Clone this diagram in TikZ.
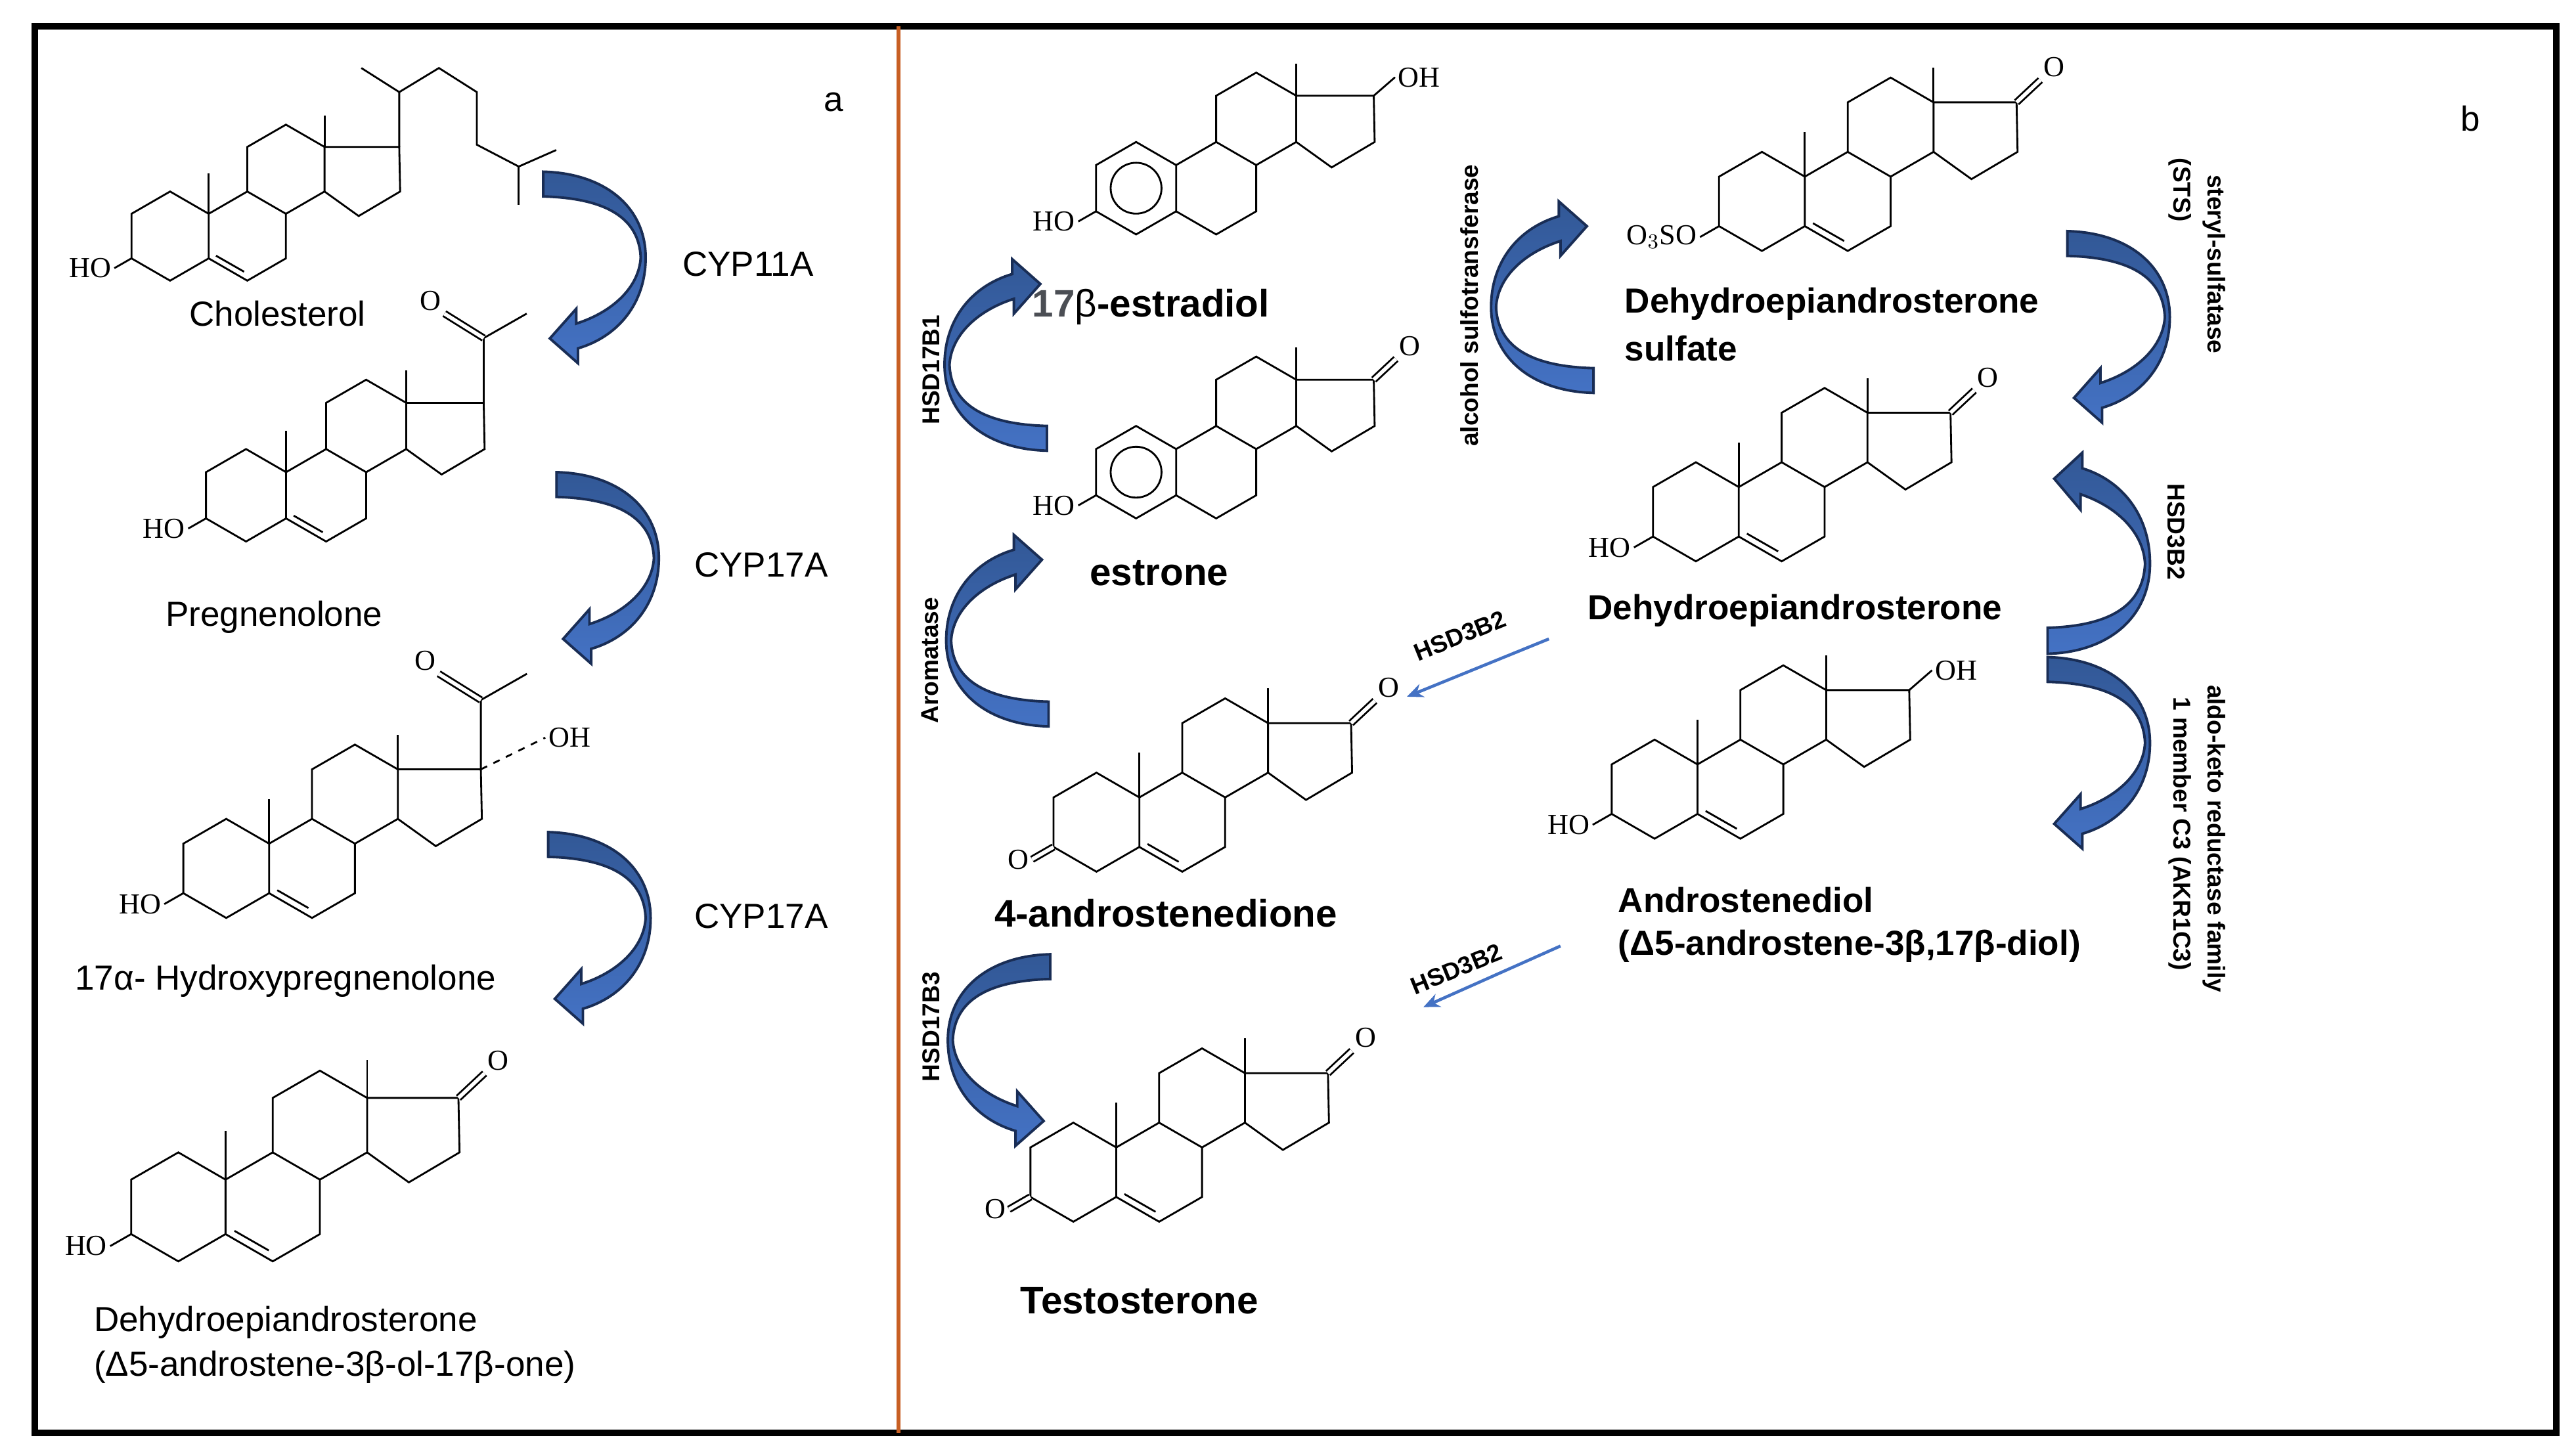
\documentclass[tikz,border=0pt]{standalone}
\usepackage{fontspec}
\usetikzlibrary{arrows.meta}
\setmainfont{Liberation Sans}
\newfontfamily\chemfont{Liberation Serif}
\begin{document}
\definecolor{arrfill}{RGB}{68,114,196}
\definecolor{arrdark}{RGB}{50,88,150}
\definecolor{arrline}{RGB}{25,45,85}
\definecolor{divider}{RGB}{200,95,35}
\definecolor{numgray}{RGB}{75,78,84}
% rings A-D of the steroid frame, bond length 1, y up, ring A centred at origin
\newcommand\skel{%
  \draw (-0.866,0.5)--(0,1)--(0.866,0.5)--(0.866,-0.5)--(0,-1)--(-0.866,-0.5)--cycle;
  \draw (0.866,0.5)--(1.732,1)--(2.598,0.5)--(2.598,-0.5)--(1.732,-1)--(0.866,-0.5);
  \draw (1.732,1)--(1.732,2)--(2.598,2.5)--(3.464,2)--(3.464,1)--(2.598,0.5);
  \draw (3.464,2)--(5.14,2)--(5.16,1.0)--(4.23,0.45)--(3.464,1);
  \draw (3.464,2)--(3.464,2.7);}
\newcommand\meten{\draw (0.866,0.5)--(0.866,1.4);}
\newcommand\dbfive{\draw (1.03,-0.44)--(1.66,-0.80);}
\newcommand\hothree[1]{\draw (-0.866,-0.5)--(-1.25,-0.72) node[chem,anchor=east]{#1};}
\newcommand\ketothree{\draw[dbl] (-0.866,-0.5)--(-1.3,-0.75) node[chem,anchor=east]{O};}
\newcommand\ketoseventeen{\draw[dbl] (5.14,2)--(5.62,2.45) node[chem,anchor=south west]{O};}
\newcommand\ohseventeen{\draw (5.14,2)--(5.6,2.4) node[chem,anchor=west]{OH};}
\newcommand\acetyl{%
  \draw (5.14,2)--(5.14,3.4)--(6.07,3.93);
  \draw[dbl] (5.14,3.4)--(4.29,3.93) node[chem,anchor=south east]{O};}
% curved block arrow: tail at origin, bulging to +x, tip at lower left (y down)
\newcommand\bigarrow[2]{%
  \begin{scope}[shift={#1},#2]
    \filldraw[barrow] (0,0) .. controls (38,1) and (62,22) .. (62,52)
      .. controls (62,80) and (45,100) .. (21,107)
      -- (21,116) -- (4,101) -- (20,83) -- (20,92)
      .. controls (42,85) and (58,70) .. (59,52)
      .. controls (58,28) and (38,16) .. (0,15) -- cycle;
  \end{scope}}
\begin{tikzpicture}[x=0.025cm,y=-0.025cm,
  chem/.style={font=\chemfont\fontsize{12.5}{12.5}\selectfont,inner sep=1pt},
  dbl/.style={double,double distance=1.6pt},
  barrow/.style={line width=1.1pt,draw=arrline,top color=arrdark,bottom color=arrfill},
  lbl/.style={font=\fontsize{15}{17}\selectfont},
  blbl/.style={font=\bfseries\fontsize{15}{17}\selectfont},
  bigl/.style={font=\bfseries\fontsize{16.5}{19}\selectfont},
  enz/.style={font=\bfseries\fontsize{10.5}{12}\selectfont},
  thin/.style={draw=arrfill,line width=1.3pt,-{Stealth[length=7pt,width=6pt]}}]
\useasboundingbox (0,0) rectangle (1560,876.7);
\draw[line width=2.8pt] (21,16) rectangle (1548,868);
\draw[divider,line width=1.8pt] (544,16)--(544,868);
\node[lbl] (la) at (505,62) {a};
\node[lbl] (lb) at (1496,72) {b};

% ---- panel a ----
\begin{scope}[shift={(103,143)},scale=27,yscale=-1,line width=0.8pt]
  \skel \meten \dbfive \hothree{HO}
  \draw (5.14,2)--(5.14,3.23)--(4.29,3.77);
  \draw (5.14,3.23)--(6.03,3.77)--(6.88,3.23)--(6.88,2.05)--(7.82,1.56)--(8.66,1.93);
  \draw (7.82,1.56)--(7.82,0.7);
\end{scope}
\begin{scope}[shift={(149,300)},scale=28,yscale=-1,line width=0.8pt]
  \skel \meten \dbfive \hothree{HO} \acetyl
\end{scope}
\begin{scope}[shift={(137,526)},scale=30,yscale=-1,line width=0.8pt]
  \skel \meten \dbfive \hothree{HO} \acetyl
  \draw[dashed] (5.14,2)--(6.44,2.64) node[chem,anchor=west]{OH};
\end{scope}
\begin{scope}[shift={(108,731)},scale=33,yscale=-1,line width=0.8pt]
  \skel \meten \dbfive \hothree{HO} \ketoseventeen
\end{scope}
\node[lbl] (chol) at (168,190) {Cholesterol};
\node[lbl] (preg) at (166,374) {Pregnenolone};
\node[lbl] (ohp) at (173,594) {17α- Hydroxypregnenolone};
\node[lbl,anchor=west] (dheal) at (52,801) {Dehydroepiandrosterone};
\node[lbl,anchor=west] (dheal2) at (52,828) {(Δ5-androstene-3β-ol-17β-one)};
\bigarrow{(329,104)}{}
\bigarrow{(337,286)}{}
\bigarrow{(332,504)}{}
\node[lbl] (e1) at (453,160) {CYP11A};
\node[lbl] (e2) at (461,342) {CYP17A};
\node[lbl] (e3) at (461,555) {CYP17A};

% ---- panel b ----
\begin{scope}[shift={(688,114)},scale=28,yscale=-1,line width=0.8pt]
  \skel \draw (0,0) circle (0.55); \hothree{HO} \ohseventeen
\end{scope}
\begin{scope}[shift={(688,286)},scale=28,yscale=-1,line width=0.8pt]
  \skel \draw (0,0) circle (0.55); \hothree{HO} \ketoseventeen
\end{scope}
\begin{scope}[shift={(664,498)},scale=30,yscale=-1,line width=0.8pt]
  \skel \meten \dbfive \ketothree \ketoseventeen
\end{scope}
\begin{scope}[shift={(650,710)},scale=30,yscale=-1,line width=0.8pt]
  \skel \meten \dbfive \ketothree \ketoseventeen
\end{scope}
\begin{scope}[shift={(1067,122)},scale=30,yscale=-1,line width=0.8pt]
  \skel \meten \dbfive \hothree{O$_3$SO} \ketoseventeen
\end{scope}
\begin{scope}[shift={(1027,310)},scale=30,yscale=-1,line width=0.8pt]
  \skel \meten \dbfive \hothree{HO} \ketoseventeen
\end{scope}
\begin{scope}[shift={(1002,478)},scale=30,yscale=-1,line width=0.8pt]
  \skel \meten \dbfive \hothree{HO} \ohseventeen
\end{scope}
\node[bigl] (e2ol) at (697,186) {\textcolor{numgray}{17}{\mdseries β}-estradiol};
\node[bigl] (e1ol) at (702,347) {estrone};
\node[bigl] (adio) at (706,553) {4-androstenedione};
\node[bigl] (testo) at (690,788) {Testosterone};
\node[blbl,anchor=west] (dheas) at (979,184) {Dehydroepiandrosterone};
\node[blbl,anchor=west] (dheas2) at (979,211) {sulfate};
\node[blbl] (dhear) at (1087,370) {Dehydroepiandrosterone};
\node[blbl,anchor=west] (adiol) at (975,545) {Androstenediol};
\node[blbl,anchor=west] (adiol2) at (975,573) {(Δ5-androstene-3β,17β-diol)};

\bigarrow{(634,273)}{rotate=180}
\bigarrow{(635,440)}{rotate=180}
\bigarrow{(965,238)}{rotate=180}
\bigarrow{(636,578)}{xscale=-1}
\bigarrow{(1252,140)}{}
\bigarrow{(1240,396)}{yscale=-1.05}
\bigarrow{(1240,398)}{}

\node[enz,rotate=90] (hsd17b1) at (564,224) {HSD17B1};
\node[enz,rotate=90] (arom) at (563,400) {Aromatase};
\node[enz,rotate=90] (sult) at (890,185) {alcohol sulfotransferase};
\node[enz,rotate=90] (hsd17b3) at (564,622) {HSD17B3};
\node[enz,rotate=-90] (sts1) at (1341,160) {steryl-sulfatase};
\node[enz,rotate=-90] (sts2) at (1320,115) {(STS)};
\node[enz,rotate=-90] (hsd3r) at (1318,322) {HSD3B2};
\node[enz,rotate=-90] (akr1) at (1341,508) {aldo-keto reductase family};
\node[enz,rotate=-90] (akr2) at (1320,505) {1 member C3 (AKR1C3)};

\coordinate (t1s) at (938,387);
\coordinate (t1e) at (852,422);
\coordinate (t2s) at (945,573);
\coordinate (t2e) at (862,610);
\draw[thin] (t1s) -- (t1e);
\draw[thin] (t2s) -- (t2e);
\node[enz,rotate=22] (hsd3a) at (884,385) {HSD3B2};
\node[enz,rotate=22] (hsd3b) at (882,587) {HSD3B2};
\end{tikzpicture}
\end{document}
